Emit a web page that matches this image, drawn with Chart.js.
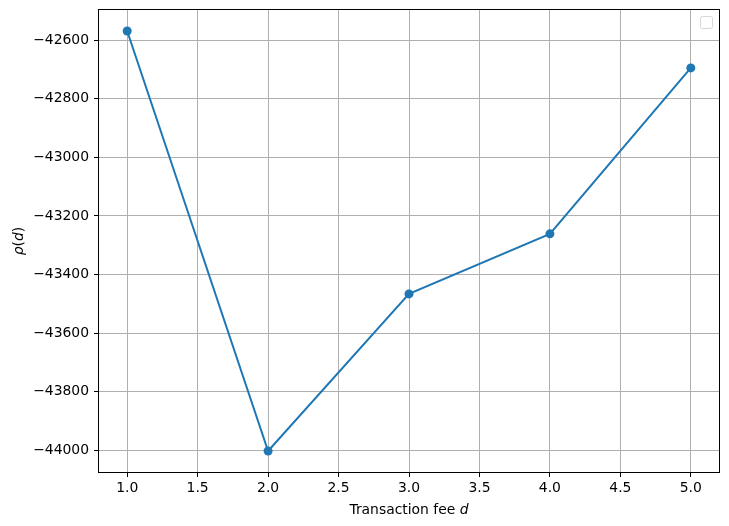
<!DOCTYPE html>
<html>
<head>
<meta charset="utf-8">
<script src="https://cdn.jsdelivr.net/npm/chart.js@4/dist/chart.umd.min.js"></script>
<style>
html,body{margin:0;padding:0;background:#fff;}
#wrap{width:729px;height:526px;position:relative;}
</style>
</head>
<body>
<div id="wrap"><canvas id="c" width="729" height="526"></canvas></div>
<script>
const fees = [1, 2, 3, 4, 5];
const rhoValues = [-42569, -44002, -43466, -43261, -42695];
const xTicks = [1.0, 1.5, 2.0, 2.5, 3.0, 3.5, 4.0, 4.5, 5.0];
const yTicks = [-44000, -43800, -43600, -43400, -43200, -43000, -42800, -42600];
const xLabel = 'Transaction fee ';
const xLabelVar = 'd';

const FONT = "'DejaVu Sans', sans-serif";

const extras = {
  id: 'extras',
  afterDraw(chart) {
    const ctx = chart.ctx;
    const a = chart.chartArea;
    ctx.save();
    // spines
    ctx.strokeStyle = '#000';
    ctx.lineWidth = 1;
    ctx.strokeRect(Math.round(a.left) - 0.5, Math.round(a.top) - 0.5, Math.round(a.right - a.left) + 1, Math.round(a.bottom - a.top) + 1);
    // empty legend box
    ctx.fillStyle = 'rgba(255,255,255,0.8)';
    ctx.strokeStyle = '#d6d6d6';
    ctx.lineWidth = 1;
    const lx = a.right - 18.5, ly = a.top + 6.5, lw = 12, lh = 12, r = 2;
    ctx.beginPath();
    ctx.moveTo(lx + r, ly);
    ctx.lineTo(lx + lw - r, ly);
    ctx.quadraticCurveTo(lx + lw, ly, lx + lw, ly + r);
    ctx.lineTo(lx + lw, ly + lh - r);
    ctx.quadraticCurveTo(lx + lw, ly + lh, lx + lw - r, ly + lh);
    ctx.lineTo(lx + r, ly + lh);
    ctx.quadraticCurveTo(lx, ly + lh, lx, ly + lh - r);
    ctx.lineTo(lx, ly + r);
    ctx.quadraticCurveTo(lx, ly, lx + r, ly);
    ctx.closePath();
    ctx.fill();
    ctx.stroke();
    // x label
    ctx.fillStyle = '#000';
    ctx.textBaseline = 'alphabetic';
    ctx.font = "13.9px " + FONT;
    const w1 = ctx.measureText(xLabel).width;
    ctx.font = "italic 13.9px " + FONT;
    const w2 = ctx.measureText(xLabelVar).width;
    const cx = (a.left + a.right) / 2;
    let sx = cx - (w1 + w2) / 2;
    ctx.font = "13.9px " + FONT;
    ctx.textAlign = 'left';
    ctx.fillText(xLabel, sx, 514);
    ctx.font = "italic 13.9px " + FONT;
    ctx.fillText(xLabelVar, sx + w1, 514);
    // y label: rho(d)
    ctx.translate(23, (a.top + a.bottom) / 2);
    ctx.rotate(-Math.PI / 2);
    const parts = [['ρ', true], ['(', false], ['d', true], [')', false]];
    let tot = 0;
    const ws = parts.map(p => { ctx.font = (p[1] ? 'italic ' : '') + '13.9px ' + FONT; const w = ctx.measureText(p[0]).width; tot += w; return w; });
    let px = -tot / 2;
    parts.forEach((p, i) => {
      ctx.font = (p[1] ? 'italic ' : '') + '13.9px ' + FONT;
      ctx.fillText(p[0], px, 0);
      px += ws[i];
    });
    ctx.restore();
  }
};

new Chart(document.getElementById('c'), {
  type: 'line',
  data: {
    datasets: [{
      data: fees.map((f, i) => ({ x: f, y: rhoValues[i] })),
      borderColor: '#1f77b4',
      backgroundColor: '#1f77b4',
      borderWidth: 2,
      pointRadius: 4.5,
      pointHoverRadius: 4.5,
      pointBorderWidth: 0,
      tension: 0,
      fill: false
    }]
  },
  options: {
    responsive: false,
    animation: false,
    devicePixelRatio: 1,
    layout: { padding: { left: 0, top: 10, right: 10, bottom: 0 } },
    plugins: { legend: { display: false }, tooltip: { enabled: false } },
    scales: {
      x: {
        type: 'linear',
        min: 0.8, max: 5.2,
        afterBuildTicks(s) { s.ticks = xTicks.map(v => ({ value: v })); },
        afterFit(s) { s.height = 54; s.paddingLeft = 0; s.paddingRight = 0; },
        ticks: {
          callback: v => Number(v).toFixed(1),
          font: { family: FONT, size: 13.9 },
          color: '#000',
          padding: 3,
          maxRotation: 0,
          autoSkip: false
        },
        grid: { color: '#b0b0b0', lineWidth: 1, tickColor: '#000', tickLength: 5, drawTicks: true },
        border: { display: false }
      },
      y: {
        type: 'linear',
        min: -44073.6, max: -42497.4,
        afterBuildTicks(s) { s.ticks = yTicks.map(v => ({ value: v })); },
        afterFit(s) { s.width = 99; s.paddingTop = 0; s.paddingBottom = 0; },
        ticks: {
          callback: v => String(v).replace('-', '\u2212'),
          font: { family: FONT, size: 13.9 },
          color: '#000',
          padding: 5,
          autoSkip: false
        },
        grid: { color: '#b0b0b0', lineWidth: 1, tickColor: '#000', tickLength: 5, drawTicks: true },
        border: { display: false }
      }
    }
  },
  plugins: [extras]
});
</script>
</body>
</html>
